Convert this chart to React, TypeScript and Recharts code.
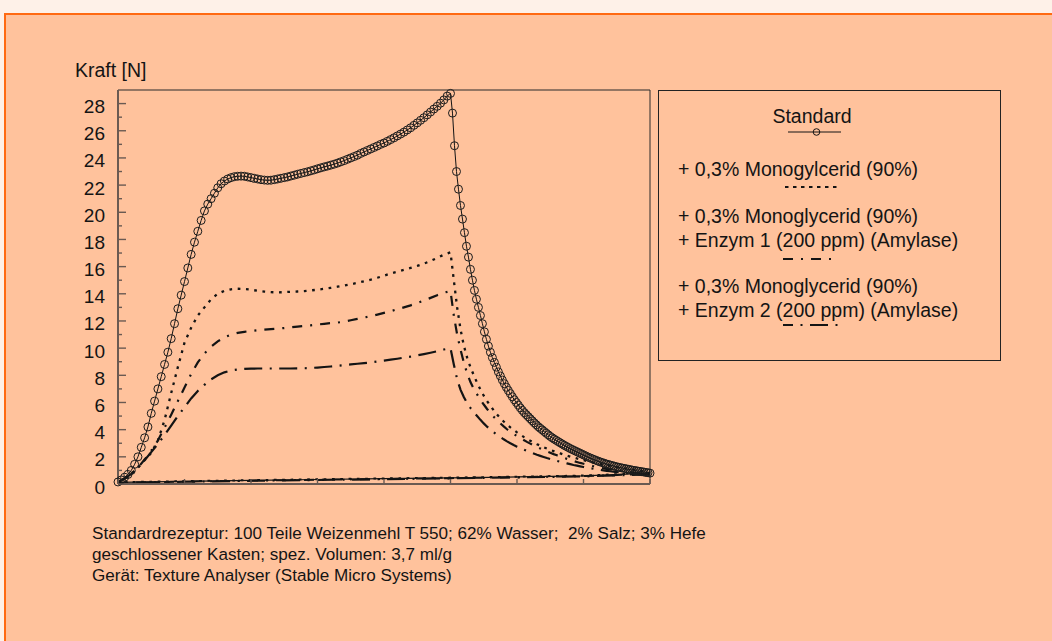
import { LineChart, Line, XAxis, YAxis, ReferenceArea, Legend } from 'recharts'

// Kraft-Weg-Kurven (Texture Analyser)
// Zeitachse ohne Beschriftung: 0..8, Spitze bei t = 5

const PEAK_T = 5

// Standard: Anstieg in 0.05er Schritten (t = 0..5), Abfall in 0.03er Schritten (t = 5.03..8)
const STD_RISE_STEP = 0.05
const STD_FALL_STEP = 0.03
const standardRise = [
  0.15, 0.3, 0.5, 0.7, 1.0, 1.45, 2.0, 2.7, 3.4, 4.2,
  5.2, 6.1, 7.0, 7.9, 8.8, 9.7, 10.7, 11.8, 12.9, 13.9,
  14.9, 15.9, 16.9, 17.8, 18.6, 19.4, 20.1, 20.6, 21.0, 21.4,
  21.8, 22.1, 22.3, 22.45, 22.55, 22.62, 22.65, 22.66, 22.65, 22.6,
  22.55, 22.5, 22.45, 22.4, 22.37, 22.35, 22.36, 22.4, 22.45, 22.5,
  22.55, 22.6, 22.67, 22.73, 22.8, 22.86, 22.92, 22.98, 23.05, 23.12,
  23.2, 23.27, 23.34, 23.4, 23.47, 23.54, 23.62, 23.71, 23.8, 23.9,
  24.0, 24.1, 24.2, 24.33, 24.44, 24.55, 24.66, 24.77, 24.88, 25.0,
  25.1, 25.22, 25.35, 25.48, 25.62, 25.76, 25.9, 26.06, 26.22, 26.4,
  26.58, 26.77, 26.96, 27.17, 27.38, 27.6, 27.8, 28.03, 28.27, 28.55,
  28.75,
]
const standardFall = [
  27.3, 24.9, 23.0, 21.7, 20.5, 19.5, 18.5, 17.5, 16.7, 15.8,
  15.0, 14.25, 13.6, 13.0, 12.4, 11.8, 11.2, 10.65, 10.15, 9.7,
  9.3, 8.95, 8.6, 8.25, 7.95, 7.65, 7.38, 7.12, 6.88, 6.65,
  6.42, 6.2, 6.0, 5.8, 5.6, 5.42, 5.25, 5.1, 4.95, 4.8,
  4.65, 4.5, 4.36, 4.22, 4.1, 3.98, 3.86, 3.74, 3.62, 3.5,
  3.4, 3.3, 3.21, 3.12, 3.03, 2.94, 2.85, 2.77, 2.69, 2.61,
  2.54, 2.47, 2.4, 2.33, 2.26, 2.19, 2.12, 2.05, 1.98, 1.92,
  1.86, 1.8, 1.74, 1.68, 1.63, 1.58, 1.53, 1.48, 1.44, 1.4,
  1.36, 1.32, 1.28, 1.24, 1.21, 1.18, 1.15, 1.12, 1.09, 1.06,
  1.03, 1.0, 0.98, 0.95, 0.93, 0.9, 0.88, 0.85, 0.83, 0.8,
]

// die drei Varianten: Anstieg 0.1er Schritte (t = 0..5), Abfall 0.05er Schritte (t = 5.05..8)
const RISE_STEP = 0.1
const FALL_STEP = 0.05
const monoRise = [
  0.15, 0.4, 0.75, 1.2, 1.75, 2.3, 3.2, 4.7, 6.7, 8.6,
  10.4, 11.5, 12.4, 13.0, 13.6, 14.0, 14.22, 14.33, 14.37, 14.35,
  14.3, 14.22, 14.16, 14.12, 14.1, 14.12, 14.15, 14.17, 14.2, 14.25,
  14.3, 14.37, 14.44, 14.52, 14.6, 14.7, 14.81, 14.92, 15.04, 15.18,
  15.33, 15.5, 15.63, 15.76, 15.9, 16.05, 16.22, 16.42, 16.64, 16.88,
  17.05,
]
const monoFall = [
  15.0, 13.0, 11.4, 10.2, 9.3, 8.6, 8.0, 7.45, 6.95, 6.5,
  6.1, 5.75, 5.42, 5.12, 4.85, 4.6, 4.38, 4.17, 3.98, 3.8,
  3.63, 3.47, 3.32, 3.18, 3.05, 2.93, 2.82, 2.71, 2.61, 2.51,
  2.42, 2.33, 2.25, 2.17, 2.09, 2.02, 1.95, 1.88, 1.82, 1.76,
  1.7, 1.64, 1.58, 1.53, 1.48, 1.43, 1.38, 1.34, 1.3, 1.25,
  1.21, 1.17, 1.13, 1.09, 1.05, 1.01, 0.97, 0.92, 0.87, 0.82,
]
const enzym1Rise = [
  0.15, 0.4, 0.75, 1.2, 1.8, 2.45, 3.2, 4.15, 5.1, 6.1,
  7.1, 8.1, 8.95, 9.6, 10.1, 10.5, 10.8, 11.0, 11.12, 11.2,
  11.27, 11.32, 11.36, 11.4, 11.44, 11.48, 11.53, 11.58, 11.63, 11.68,
  11.74, 11.79, 11.84, 11.88, 11.95, 12.05, 12.15, 12.25, 12.35, 12.47,
  12.6, 12.72, 12.86, 13.0, 13.15, 13.32, 13.5, 13.7, 13.9, 14.08,
  14.2,
]
const enzym1Fall = [
  12.4, 11.0, 9.9, 8.95, 8.15, 7.5, 7.0, 6.6, 6.2, 5.85,
  5.52, 5.22, 4.95, 4.7, 4.46, 4.24, 4.03, 3.84, 3.68, 3.53,
  3.38, 3.24, 3.1, 2.97, 2.84, 2.72, 2.61, 2.5, 2.4, 2.3,
  2.2, 2.11, 2.02, 1.93, 1.85, 1.77, 1.69, 1.62, 1.55, 1.49,
  1.43, 1.37, 1.31, 1.25, 1.2, 1.15, 1.11, 1.07, 1.03, 0.99,
  0.96, 0.93, 0.9, 0.87, 0.84, 0.82, 0.8, 0.78, 0.76, 0.75,
]
const enzym2Rise = [
  0.15, 0.4, 0.75, 1.2, 1.75, 2.35, 2.95, 3.6, 4.3, 5.0,
  5.65, 6.3, 6.85, 7.3, 7.7, 8.0, 8.22, 8.36, 8.43, 8.47,
  8.49, 8.5, 8.5, 8.5, 8.5, 8.5, 8.5, 8.51, 8.52, 8.54,
  8.57, 8.61, 8.65, 8.7, 8.75, 8.8, 8.85, 8.9, 8.95, 9.02,
  9.08, 9.15, 9.22, 9.3, 9.38, 9.47, 9.56, 9.66, 9.77, 9.9,
  10.0,
]
const enzym2Fall = [
  8.8, 7.7, 6.95, 6.4, 5.95, 5.6, 5.28, 5.0, 4.72, 4.46,
  4.22, 4.0, 3.8, 3.62, 3.45, 3.29, 3.14, 3.0, 2.87, 2.75,
  2.64, 2.53, 2.43, 2.33, 2.24, 2.15, 2.07, 1.99, 1.91, 1.84,
  1.77, 1.7, 1.64, 1.58, 1.52, 1.46, 1.4, 1.35, 1.3, 1.25,
  1.2, 1.16, 1.12, 1.08, 1.04, 1.0, 0.97, 0.94, 0.91, 0.88,
  0.85, 0.82, 0.8, 0.78, 0.76, 0.74, 0.73, 0.72, 0.71, 0.7,
]

// Rueckweg der Sonde entlang der Grundlinie (t = 8 -> 0)
const returnTimes = [8, 7, 6, 5, 4, 3, 2, 1, 0]
const standardReturn = [0.8, 0.6, 0.52, 0.45, 0.39, 0.33, 0.27, 0.2, 0.12]
const monoReturn = [0.82, 0.62, 0.54, 0.47, 0.41, 0.35, 0.28, 0.21, 0.13]
const enzym1Return = [0.75, 0.58, 0.5, 0.43, 0.37, 0.31, 0.25, 0.18, 0.1]
const enzym2Return = [0.7, 0.55, 0.48, 0.41, 0.35, 0.29, 0.23, 0.16, 0.08]

const yTicks = [
  0, 1, 2, 3, 4, 5, 6, 7, 8, 9, 10, 11, 12, 13, 14,
  15, 16, 17, 18, 19, 20, 21, 22, 23, 24, 25, 26, 27, 28,
]
const xTicks = [0, 1, 2, 3, 4, 5, 6, 7, 8]

const footerLines = [
  'Standardrezeptur: 100 Teile Weizenmehl T 550; 62% Wasser;  2% Salz; 3% Hefe',
  'geschlossener Kasten; spez. Volumen: 3,7 ml/g',
  'Gerät: Texture Analyser (Stable Micro Systems)',
]

const FONT = "'Liberation Sans', Arial, sans-serif"
const INK = '#141414'
const AXIS = '#6a5a52'
const PEACH = '#FFC29C'
const ORANGE = '#FF6A12'
const CREAM = '#FEF1E8'

const DOTTED = '2.7 5.6'
const DASH_DOT = '10 8 2 8'
const LONG_DASH_DOT = '18 7.5 2 7.5'

interface Pt {
  t: number
  v: number
}

function curve(rise: number[], riseStep: number, fall: number[], fallStep: number): Pt[] {
  const pts = rise.map((v, i) => ({ t: +(i * riseStep).toFixed(3), v }))
  fall.forEach((v, i) => pts.push({ t: +(PEAK_T + (i + 1) * fallStep).toFixed(3), v }))
  return pts
}

function back(values: number[]): Pt[] {
  return returnTimes.map((t, i) => ({ t, v: values[i] }))
}

const standardData = curve(standardRise, STD_RISE_STEP, standardFall, STD_FALL_STEP)
const monoData = curve(monoRise, RISE_STEP, monoFall, FALL_STEP)
const enzym1Data = curve(enzym1Rise, RISE_STEP, enzym1Fall, FALL_STEP)
const enzym2Data = curve(enzym2Rise, RISE_STEP, enzym2Fall, FALL_STEP)

const TICK_GAP = 13

function ForceTick(props: any) {
  const { x, y, payload } = props
  const major = payload.value % 2 === 0
  const ax = x + TICK_GAP
  return (
    <g>
      <line x1={ax} x2={ax + (major ? 8 : 4)} y1={y} y2={y} stroke={AXIS} strokeWidth={1.4} />
      {major && (
        <text x={x} y={y + 9.5} textAnchor="end" fontSize={19} fill={INK} fontFamily={FONT}>
          {payload.value}
        </text>
      )}
    </g>
  )
}

function DistanceTick(props: any) {
  const { x, y } = props
  return <line x1={x} x2={x} y1={y} y2={y - 5} stroke={AXIS} strokeWidth={1.4} />
}

function LegendBox() {
  const text = { fontSize: 19.5, fill: INK, fontFamily: FONT }
  return (
    <svg width={343} height={271} style={{ display: 'block' }}>
      <rect x={0.5} y={0.5} width={342} height={270} fill="none" stroke="#222" strokeWidth={1} />
      <text x={154} y={33} textAnchor="middle" {...text}>Standard</text>
      <line x1={130} x2={183} y1={42} y2={42} stroke={INK} strokeWidth={1} />
      <circle cx={158.5} cy={42} r={3.3} fill="none" stroke={INK} strokeWidth={1} />

      <text x={20} y={86} {...text}>+ 0,3% Monogylcerid (90%)</text>
      <line x1={127} x2={182} y1={97} y2={97} stroke={INK} strokeWidth={2.2} strokeDasharray="3.5 4.5" />

      <text x={20} y={133} {...text}>+ 0,3% Monoglycerid (90%)</text>
      <text x={20} y={157} {...text}>+ Enzym 1 (200 ppm) (Amylase)</text>
      <line x1={125} x2={176} y1={169} y2={169} stroke={INK} strokeWidth={2.2} strokeDasharray={DASH_DOT} />

      <text x={20} y={203} {...text}>+ 0,3% Monoglycerid (90%)</text>
      <text x={20} y={227} {...text}>+ Enzym 2 (200 ppm) (Amylase)</text>
      <line x1={125} x2={184} y1={235} y2={235} stroke={INK} strokeWidth={2.2} strokeDasharray="10 7.5 2 7.5 18 7.5 2 7.5" />
    </svg>
  )
}

export default function App() {
  return (
    <div
      style={{
        position: 'absolute',
        left: 0,
        top: 0,
        width: 1052,
        height: 641,
        overflow: 'hidden',
        background: CREAM,
        fontFamily: FONT,
      }}
    >
      <div
        style={{
          position: 'absolute',
          left: 4,
          top: 13,
          width: 1100,
          height: 700,
          background: PEACH,
          borderTop: `2.5px solid ${ORANGE}`,
          borderLeft: `2.5px solid ${ORANGE}`,
        }}
      />
      <div
        style={{
          position: 'absolute',
          left: 75,
          top: 60,
          fontSize: 19.5,
          lineHeight: '20px',
          color: INK,
          whiteSpace: 'nowrap',
        }}
      >
        Kraft [N]
      </div>

      <div style={{ position: 'absolute', left: 0, top: 0 }}>
        <LineChart width={1052} height={641} margin={{ top: 90, right: 402, bottom: 137, left: 58 }}>
          <XAxis
            dataKey="t"
            type="number"
            domain={[0, 8]}
            ticks={xTicks}
            interval={0}
            height={20}
            tickSize={0}
            tickMargin={0}
            tickLine={false}
            tick={<DistanceTick />}
            axisLine={{ stroke: AXIS, strokeWidth: 2 }}
          />
          <YAxis
            type="number"
            domain={[0, 29]}
            ticks={yTicks}
            interval={0}
            width={60}
            tickSize={0}
            tickMargin={TICK_GAP}
            tickLine={false}
            tick={<ForceTick />}
            axisLine={{ stroke: AXIS, strokeWidth: 2 }}
          />
          <ReferenceArea x1={0} x2={8} y1={0} y2={29} fill="none" stroke="#2a2a2a" strokeWidth={1} />

          <Line data={back(enzym2Return)} dataKey="v" type="linear" stroke={INK} strokeWidth={2} strokeDasharray={LONG_DASH_DOT} dot={false} legendType="none" isAnimationActive={false} />
          <Line data={back(enzym1Return)} dataKey="v" type="linear" stroke={INK} strokeWidth={2} strokeDasharray={DASH_DOT} dot={false} legendType="none" isAnimationActive={false} />
          <Line data={back(monoReturn)} dataKey="v" type="linear" stroke={INK} strokeWidth={2} strokeDasharray={DOTTED} dot={false} legendType="none" isAnimationActive={false} />
          <Line data={back(standardReturn)} dataKey="v" type="linear" stroke={INK} strokeWidth={1.2} dot={false} legendType="none" isAnimationActive={false} />

          <Line data={enzym2Data} dataKey="v" name="Enzym 2" type="linear" stroke={INK} strokeWidth={2.2} strokeDasharray={LONG_DASH_DOT} dot={false} isAnimationActive={false} />
          <Line data={enzym1Data} dataKey="v" name="Enzym 1" type="linear" stroke={INK} strokeWidth={2.2} strokeDasharray={DASH_DOT} dot={false} isAnimationActive={false} />
          <Line data={monoData} dataKey="v" name="Monoglycerid" type="linear" stroke={INK} strokeWidth={2.3} strokeDasharray={DOTTED} dot={false} isAnimationActive={false} />
          <Line
            data={standardData}
            dataKey="v"
            name="Standard"
            type="linear"
            stroke={INK}
            strokeWidth={1}
            dot={{ r: 4, stroke: '#1c1c1c', strokeWidth: 1, fill: 'none' }}
            isAnimationActive={false}
          />

          <Legend
            layout="horizontal"
            verticalAlign="middle"
            align="center"
            width={343}
            height={271}
            wrapperStyle={{ left: 658, top: 90, width: 343, height: 271 }}
            content={() => <LegendBox />}
          />
        </LineChart>
      </div>

      <div
        style={{
          position: 'absolute',
          left: 92,
          top: 522.5,
          fontSize: 17.1,
          lineHeight: '21px',
          color: INK,
          whiteSpace: 'pre',
        }}
      >
        {footerLines.map((l) => (
          <div key={l}>{l}</div>
        ))}
      </div>
    </div>
  )
}
